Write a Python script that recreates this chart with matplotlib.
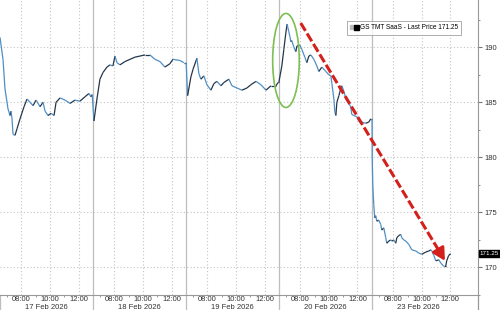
import numpy as np
import matplotlib.pyplot as plt
from matplotlib.collections import LineCollection
from matplotlib.patches import Ellipse
from matplotlib.lines import Line2D
from matplotlib.legend_handler import HandlerTuple

plt.rcParams["font.family"] = ["Liberation Sans Narrow", "Liberation Sans", "DejaVu Sans"]

# trading sessions (06:30 - 13:00 local), one per day
days = ["17 Feb 2026", "18 Feb 2026", "19 Feb 2026", "20 Feb 2026", "23 Feb 2026"]
hour_labels = ["08:00", "10:00", "12:00"]
open_hour = 6.5
session_len = 6.5

d1_hours = [6.50, 6.71, 6.85, 7.06, 7.20, 7.27, 7.34, 7.41, 7.55, 7.69, 7.90, 8.18, 8.39,
            8.60, 8.81, 9.02, 9.30, 9.51, 9.65, 9.86, 10.07, 10.28, 10.42, 10.70, 11.05,
            11.40, 11.74, 12.09, 12.44, 12.72, 12.86, 12.95]
d1_price = [190.9, 188.9, 186.2, 184.4, 183.8, 184.2, 183.5, 182.1, 182.0, 182.6, 183.5,
            184.6, 185.3, 185.0, 184.7, 185.2, 184.6, 185.0, 184.2, 183.8, 184.0, 183.8,
            185.0, 185.4, 185.2, 184.9, 185.2, 185.1, 185.5, 185.8, 185.5, 185.7]

d2_hours = [6.57, 6.78, 6.99, 7.20, 7.48, 7.69, 7.90, 8.04, 8.18, 8.39, 8.74, 9.09, 9.44,
            9.79, 10.14, 10.49, 10.84, 11.19, 11.53, 11.88, 12.09, 12.58, 12.86, 12.95]
d2_price = [183.3, 185.3, 187.1, 187.7, 188.2, 188.4, 188.3, 189.2, 188.6, 188.4, 188.7,
            188.9, 189.1, 189.2, 189.3, 189.3, 188.9, 188.7, 188.2, 188.5, 188.9, 188.8,
            188.6, 188.6]

d3_hours = [6.52, 6.62, 6.85, 7.00, 7.27, 7.41, 7.55, 7.76, 7.97, 8.25, 8.46, 8.67, 8.95,
            9.16, 9.51, 9.72, 10.07, 10.42, 10.77, 11.05, 11.40, 11.75, 12.10, 12.45,
            12.80, 12.95]
d3_price = [188.6, 185.6, 187.3, 188.0, 189.0, 187.6, 187.1, 187.4, 186.6, 186.1, 186.7,
            186.9, 186.5, 186.8, 187.1, 186.5, 186.3, 186.1, 186.3, 186.6, 186.9, 186.6,
            186.1, 186.5, 186.5, 186.8]

d4_hours = [6.50, 6.71, 6.85, 6.99, 7.08, 7.13, 7.20, 7.27, 7.34, 7.41, 7.55, 7.69, 7.76,
            7.97, 8.11, 8.32, 8.46, 8.60, 8.74, 8.95, 9.16, 9.30, 9.51, 9.79, 10.00,
            10.14, 10.21, 10.35, 10.42, 10.49, 10.56, 10.70, 10.84, 10.91, 11.05, 11.19,
            11.33, 11.53, 11.60, 11.74, 11.95, 12.09, 12.23, 12.30, 12.58, 12.79, 12.93]
d4_price = [186.8, 188.3, 189.8, 191.3, 192.1, 191.8, 191.4, 191.0, 190.5, 190.6, 190.0,
            189.6, 190.1, 190.2, 189.8, 189.1, 188.6, 189.2, 189.3, 188.9, 188.3, 187.8,
            188.2, 187.8, 187.5, 187.4, 186.7, 185.3, 184.1, 183.8, 185.0, 185.6, 186.3,
            186.5, 186.0, 185.3, 185.0, 184.6, 183.9, 183.8, 183.7, 183.3, 183.1, 183.2,
            183.1, 183.2, 183.5]

d5_hours = [6.52, 6.53, 6.57, 6.64, 6.71, 6.78, 6.85, 6.99, 7.13, 7.20, 7.34, 7.48, 7.55,
            7.69, 7.83, 7.90, 8.04, 8.18, 8.25, 8.39, 8.53, 8.60, 8.74, 8.88, 9.09, 9.30,
            9.58, 9.79, 10.00, 10.28, 10.49, 10.63, 10.70, 10.84, 10.98, 11.19, 11.33,
            11.54, 11.67, 11.74, 11.88, 12.02]
d5_price = [183.5, 180.0, 177.5, 175.7, 174.5, 174.7, 174.2, 174.3, 173.9, 173.4, 173.6,
            172.7, 172.2, 172.4, 172.5, 172.4, 172.5, 172.2, 172.7, 172.9, 173.0, 172.7,
            172.5, 172.4, 172.1, 171.6, 171.5, 171.3, 171.2, 171.4, 171.5, 171.6, 171.5,
            171.1, 170.6, 170.7, 170.4, 170.1, 170.1, 170.6, 171.1, 171.25]

last_price = 171.25
series_name = "GS TMT SaaS - Last Price 171.25"

all_hours = [d1_hours, d2_hours, d3_hours, d4_hours, d5_hours]
all_price = [d1_price, d2_price, d3_price, d4_price, d5_price]

# session index -> continuous x
x = np.concatenate([i * session_len + np.array(h) - open_hour for i, h in enumerate(all_hours)])
y = np.concatenate([np.array(p) for p in all_price])

grid_c = "#c4c4c4"
sep_c = "#bdbdbd"
red = "#d3201c"
txt_c = "#333333"

fig = plt.figure(figsize=(5, 3.1), dpi=100)
ax = fig.add_axes([0, 15 / 310, 478 / 500, 295 / 310])
ax.set_xlim(0, 33.43)
ax.set_ylim(167.76, 194.29)
ax.grid(False)

for v in [170, 175, 180, 185, 190]:
    ax.axhline(v, color=grid_c, lw=0.8, ls=(0, (1, 2)), zorder=0)
for i in range(len(days)):
    for k in range(3):
        ax.axvline(i * session_len + 1.5 + 2 * k, color=grid_c, lw=0.8, ls=(0, (1, 2)), zorder=0)
    if i > 0:
        ax.plot([i * session_len] * 2, [-0.06, 1], transform=ax.get_xaxis_transform(),
                color=sep_c, lw=0.9, clip_on=False, zorder=1)
ax.plot([0.02, 0.02], [-0.06, 0], transform=ax.get_xaxis_transform(),
        color=sep_c, lw=0.9, clip_on=False)
ax.plot([1, 1], [-0.06, 0], transform=ax.transAxes, color="#999999", lw=0.9, clip_on=False)

# price line, falling segments lighter
pts = np.column_stack([x, y]).reshape(-1, 1, 2)
segs = np.concatenate([pts[:-1], pts[1:]], axis=1)
cols = ["#4f8fc4" if d < 0 else "#24364a" for d in np.diff(y)]
ax.add_collection(LineCollection(segs, colors=cols, linewidths=0.9, zorder=3))

# annotations
ax.add_patch(Ellipse((20.0, 188.8), width=1.86, height=8.54, fill=False,
                     edgecolor="#7cbf52", lw=1.2, zorder=4))
ax.plot([21.03, 30.69], [192.2, 171.54], color=red, lw=2.2, ls=(0, (3, 1)),
        dash_capstyle="butt", zorder=5)
ax.annotate("", xy=(31.12, 170.6), xytext=(30.69, 171.54),
            arrowprops=dict(arrowstyle="-|>,head_length=0.75,head_width=0.4",
                            color=red, lw=2.0, shrinkA=0, shrinkB=0), zorder=5)

# axes styling
for s in ["top", "left"]:
    ax.spines[s].set_visible(False)
ax.spines["bottom"].set_color("#999999")
ax.spines["right"].set_color("#999999")
ax.yaxis.tick_right()
ax.set_yticks([170, 175, 180, 185, 190])
ax.set_yticks(np.arange(167.5, 194, 2.5), minor=True)
ax.tick_params(axis="y", which="both", direction="out", color="#777777", labelsize=5.5,
               labelcolor=txt_c, pad=1.5)
ax.tick_params(axis="y", which="major", length=3, width=0.8)
ax.tick_params(axis="y", which="minor", length=1.5, width=0.6)

ax.set_xticks([i * session_len + h for i in range(len(days)) for h in (0.5, 2.5, 4.5)], minor=True)
ax.set_xticks([])
ax.tick_params(axis="x", which="minor", length=1.5, color="#888888", direction="out")

tr = ax.get_xaxis_transform()
for i, d in enumerate(days):
    for k, lab in enumerate(hour_labels):
        ax.text(i * session_len + 1.5 + 2 * k, -0.016, lab, transform=tr, ha="center",
                va="center", fontsize=5.5, color=txt_c)
    ax.text(i * session_len + session_len / 2, -0.042, d, transform=tr, ha="center",
            va="center", fontsize=5.5, color=txt_c)

# last price tag
ax.text(1.004, last_price, "171.25", transform=ax.get_yaxis_transform(), ha="left",
        va="center", fontsize=4.5, color="white",
        bbox=dict(boxstyle="square,pad=0.15", fc="black", ec="black"))

# legend
h_gray = Line2D([], [], ls="none", marker="s", ms=2.2, mfc="#bbbbbb", mec="#bbbbbb")
h_black = Line2D([], [], ls="none", marker="s", ms=3.6, mfc="black", mec="black")
leg = ax.legend([(h_gray, h_black)], [series_name], handler_map={tuple: HandlerTuple(ndivide=None, pad=0.1)},
                loc="upper left", bbox_to_anchor=(347 / 478, 1 - 21 / 295), borderaxespad=0,
                fontsize=4.7, frameon=True, fancybox=False, edgecolor="#999999",
                handlelength=1.2, handletextpad=0.3, borderpad=0.5)
leg.get_frame().set_linewidth(0.7)

fig.savefig("out.png", dpi=100)
